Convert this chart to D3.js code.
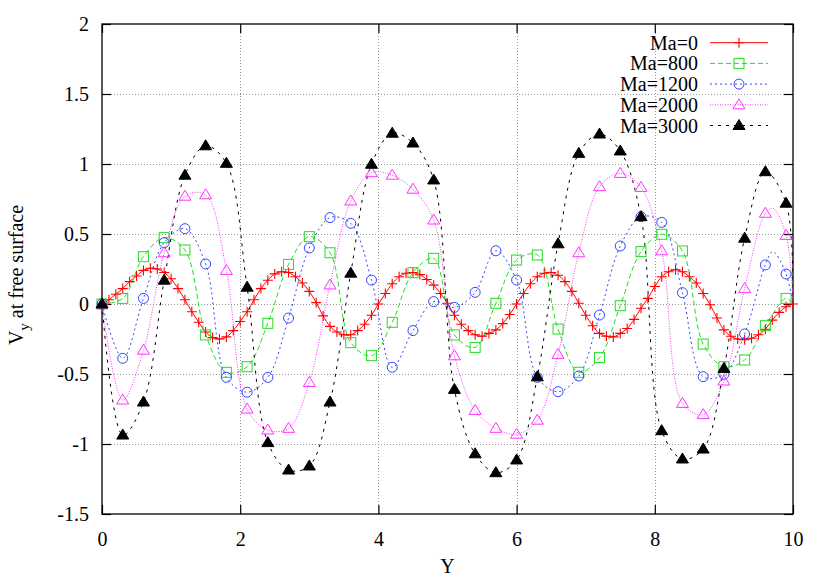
<!DOCTYPE html>
<html>
<head>
<meta charset="utf-8">
<script src="https://cdn.jsdelivr.net/npm/d3@7"></script>
<style>
  body { margin: 0; background: #fff; }
  svg { font-family: "Liberation Serif", "Times New Roman", serif; }
</style>
</head>
<body>
<div id="chart"></div>
<script>
// x positions of the Ma=0 samples (every 0.1)
const xFine = [0, 0.1, 0.2, 0.3, 0.4, 0.5, 0.6, 0.7, 0.8, 0.9,
  1.0, 1.1, 1.2, 1.3, 1.4, 1.5, 1.6, 1.7, 1.8, 1.9,
  2.0, 2.1, 2.2, 2.3, 2.4, 2.5, 2.6, 2.7, 2.8, 2.9,
  3.0, 3.1, 3.2, 3.3, 3.4, 3.5, 3.6, 3.7, 3.8, 3.9,
  4.0, 4.1, 4.2, 4.3, 4.4, 4.5, 4.6, 4.7, 4.8, 4.9,
  5.0, 5.1, 5.2, 5.3, 5.4, 5.5, 5.6, 5.7, 5.8, 5.9,
  6.0, 6.1, 6.2, 6.3, 6.4, 6.5, 6.6, 6.7, 6.8, 6.9,
  7.0, 7.1, 7.2, 7.3, 7.4, 7.5, 7.6, 7.7, 7.8, 7.9,
  8.0, 8.1, 8.2, 8.3, 8.4, 8.5, 8.6, 8.7, 8.8, 8.9,
  9.0, 9.1, 9.2, 9.3, 9.4, 9.5, 9.6, 9.7, 9.8, 9.9, 10.0];

const ma0 = [0, 0.03, 0.07, 0.11, 0.16, 0.20, 0.24, 0.255, 0.25, 0.225,
  0.18, 0.11, 0.03, -0.055, -0.13, -0.20, -0.24, -0.25, -0.235, -0.19,
  -0.125, -0.055, 0.03, 0.11, 0.17, 0.215, 0.23, 0.225, 0.195, 0.15,
  0.09, 0.01, -0.085, -0.16, -0.20, -0.22, -0.22, -0.19, -0.145, -0.08,
  0.0, 0.075, 0.145, 0.195, 0.22, 0.225, 0.21, 0.175, 0.135, 0.075,
  0.005, -0.08, -0.145, -0.19, -0.22, -0.23, -0.21, -0.185, -0.14, -0.075,
  0.0, 0.075, 0.145, 0.195, 0.22, 0.225, 0.205, 0.16, 0.09, 0.005,
  -0.08, -0.155, -0.21, -0.23, -0.235, -0.21, -0.175, -0.11, -0.03, 0.04,
  0.125, 0.195, 0.23, 0.245, 0.23, 0.195, 0.15, 0.075, -0.005, -0.10,
  -0.185, -0.23, -0.25, -0.255, -0.245, -0.22, -0.18, -0.115, -0.06, -0.02, 0];

// x positions of the other series' markers (every 0.3)
const xMarks = [0, 0.3, 0.6, 0.9, 1.2, 1.5, 1.8, 2.1, 2.4, 2.7,
  3.0, 3.3, 3.6, 3.9, 4.2, 4.5, 4.8, 5.1, 5.4, 5.7,
  6.0, 6.3, 6.6, 6.9, 7.2, 7.5, 7.8, 8.1, 8.4, 8.7,
  9.0, 9.3, 9.6, 9.9];

const ma800 = [0, 0.04, 0.338, 0.474, 0.386, -0.221, -0.488, -0.448, -0.138, 0.283,
  0.481, 0.366, -0.276, -0.369, -0.131, 0.224, 0.326, -0.221, -0.31, 0.005,
  0.314, 0.35, -0.179, -0.488, -0.383, -0.012, 0.374, 0.498, 0.379, -0.286,
  -0.448, -0.40, -0.155, 0.04];

const ma1200 = [0, -0.388, 0.04, 0.438, 0.538, 0.286, -0.524, -0.63, -0.524, -0.10,
  0.40, 0.617, 0.576, 0.171, -0.452, -0.19, 0.017, -0.024, 0.083, 0.38,
  0.171, -0.524, -0.626, -0.514, -0.079, 0.414, 0.624, 0.583, 0.081, -0.519,
  -0.502, -0.214, 0.279, 0.214];

const ma2000 = [0, -0.686, -0.33, 0.366, 0.77, 0.78, 0.24, -0.75, -0.90, -0.888,
  -0.56, 0.136, 0.736, 0.938, 0.92, 0.82, 0.60, -0.37, -0.76, -0.888,
  -0.93, -0.83, -0.36, 0.366, 0.838, 0.933, 0.833, 0.38, -0.71, -0.79,
  -0.55, 0.11, 0.648, 0.49];

const ma3000 = [0, -0.936, -0.70, 0.17, 0.92, 1.13, 1.005, 0.12, -0.99, -1.186,
  -1.157, -0.70, 0.22, 0.998, 1.22, 1.15, 0.886, -0.61, -1.07, -1.205,
  -1.114, -0.52, 0.43, 1.076, 1.214, 1.093, 0.624, -0.905, -1.107, -1.036,
  -0.46, 0.47, 0.945, 0.72];

// curve points between markers (line only, no marker)
const ma800Extra = [[10, 0]];
const ma1200Extra = [[9.71, 0.374], [10, 0]];
const ma2000Extra = [[9.71, 0.684], [10, 0]];
const ma3000Extra = [[10, 0]];

const xTicks = [0, 2, 4, 6, 8, 10];
const yTicks = [-1.5, -1, -0.5, 0, 0.5, 1, 1.5, 2];

const width = 830;
const height = 581;
const plot = { left: 102, right: 793, top: 24, bottom: 514 };

const svg = d3.select('#chart').append('svg')
    .attr('width', width)
    .attr('height', height);

const x = d3.scaleLinear().domain([0, 10]).range([plot.left, plot.right]);
const y = d3.scaleLinear().domain([-1.5, 2]).range([plot.bottom, plot.top]);

// grid
const grid = svg.append('g')
    .attr('stroke', '#999')
    .attr('stroke-width', 1)
    .attr('stroke-dasharray', '1,2');
grid.selectAll('line.gx')
    .data(xTicks.slice(1, -1))
    .enter().append('line')
    .attr('x1', d => Math.round(x(d)) + 0.5).attr('x2', d => Math.round(x(d)) + 0.5)
    .attr('y1', plot.top).attr('y2', plot.bottom);
grid.selectAll('line.gy')
    .data(yTicks.slice(1, -1))
    .enter().append('line')
    .attr('y1', d => Math.round(y(d)) + 0.5).attr('y2', d => Math.round(y(d)) + 0.5)
    .attr('x1', plot.left).attr('x2', plot.right);

// axes: ticks inside, mirrored on all sides
const tickLen = 9;
const fmt = d => String(d);

svg.append('g')
    .attr('transform', `translate(0,${plot.bottom})`)
    .call(d3.axisBottom(x).tickValues(xTicks).tickFormat(fmt).tickSizeInner(-tickLen).tickSizeOuter(0).tickPadding(18));
svg.append('g')
    .attr('transform', `translate(0,${plot.top})`)
    .call(d3.axisTop(x).tickValues(xTicks).tickFormat('').tickSizeInner(-tickLen).tickSizeOuter(0));
svg.append('g')
    .attr('transform', `translate(${plot.left},0)`)
    .call(d3.axisLeft(y).tickValues(yTicks).tickFormat(fmt).tickSizeInner(-tickLen).tickSizeOuter(0).tickPadding(13));
svg.append('g')
    .attr('transform', `translate(${plot.right},0)`)
    .call(d3.axisRight(y).tickValues(yTicks).tickFormat('').tickSizeInner(-tickLen).tickSizeOuter(0));

svg.selectAll('.domain').remove();
svg.selectAll('.tick line').attr('stroke', '#000').attr('stroke-width', 1.2);
svg.selectAll('.tick text')
    .attr('fill', '#000')
    .style('font-size', '20px')
    .style('font-family', '"Liberation Serif", serif');

// border
svg.append('rect')
    .attr('x', plot.left).attr('y', plot.top)
    .attr('width', plot.right - plot.left).attr('height', plot.bottom - plot.top)
    .attr('fill', 'none').attr('stroke', '#000').attr('stroke-width', 1.3);

// axis titles
svg.append('text')
    .attr('x', (plot.left + plot.right) / 2)
    .attr('y', 573)
    .attr('text-anchor', 'middle')
    .style('font-size', '20px')
    .text('Y');

const yLabel = svg.append('text')
    .attr('transform', 'translate(23,275) rotate(-90)')
    .attr('text-anchor', 'middle')
    .style('font-size', '20px');
yLabel.append('tspan').text('V');
yLabel.append('tspan').attr('dy', 6).style('font-size', '15px').text('y');
yLabel.append('tspan').attr('dy', -6).text(' at free surface');

// series
const series = [
  { name: 'Ma=0', xs: xFine, ys: ma0, extra: [], color: '#ff0000', dash: null, marker: 'plus' },
  { name: 'Ma=800', xs: xMarks, ys: ma800, extra: ma800Extra, color: '#22dd22', dash: '5,3', marker: 'square' },
  { name: 'Ma=1200', xs: xMarks, ys: ma1200, extra: ma1200Extra, color: '#3344ff', dash: '2,3', marker: 'circle' },
  { name: 'Ma=2000', xs: xMarks, ys: ma2000, extra: ma2000Extra, color: '#ff33ff', dash: '1,1.5', marker: 'triangle' },
  { name: 'Ma=3000', xs: xMarks, ys: ma3000, extra: ma3000Extra, color: '#000000', dash: '3,5', marker: 'filledTriangle' }
];

svg.append('clipPath').attr('id', 'clip')
    .append('rect')
    .attr('x', plot.left).attr('y', plot.top)
    .attr('width', plot.right - plot.left).attr('height', plot.bottom - plot.top);

const line = d3.line()
    .x(d => x(d[0]))
    .y(d => y(d[1]))
    .curve(d3.curveCatmullRom.alpha(0.5));

const drawMarker = (g, type, color, cx, cy) => {
    if (type === 'plus') {
        g.append('path')
            .attr('d', `M${cx - 5},${cy}H${cx + 5}M${cx},${cy - 5}V${cy + 5}`)
            .attr('stroke', color).attr('stroke-width', 1.1).attr('fill', 'none');
    } else if (type === 'square') {
        g.append('rect')
            .attr('x', cx - 5).attr('y', cy - 5).attr('width', 10).attr('height', 10)
            .attr('stroke', color).attr('stroke-width', 1).attr('fill', 'none');
    } else if (type === 'circle') {
        g.append('circle')
            .attr('cx', cx).attr('cy', cy).attr('r', 5)
            .attr('stroke', color).attr('stroke-width', 1).attr('fill', 'none');
    } else {
        const filled = type === 'filledTriangle';
        g.append('path')
            .attr('d', `M${cx},${cy - 6}L${cx + 6},${cy + 4}L${cx - 6},${cy + 4}Z`)
            .attr('stroke', color).attr('stroke-width', 1)
            .attr('fill', filled ? color : 'none');
    }
};

const plotG = svg.append('g').attr('clip-path', 'url(#clip)');

series.forEach(s => {
    const pts = s.xs.map((v, i) => [v, s.ys[i]])
        .concat(s.extra)
        .sort((a, b) => a[0] - b[0]);
    plotG.append('path')
        .datum(pts)
        .attr('fill', 'none')
        .attr('stroke', s.color)
        .attr('stroke-width', 1)
        .attr('stroke-dasharray', s.dash)
        .attr('d', line);
});

series.forEach(s => {
    const mg = svg.append('g');
    s.xs.forEach((v, i) => drawMarker(mg, s.marker, s.color, x(v), y(s.ys[i])));
});

// legend (no background, like gnuplot's default key)
const legend = svg.append('g');
series.forEach((s, i) => {
    const ly = 42.7 + i * 20.7;
    legend.append('text')
        .attr('x', 698).attr('y', ly + 7)
        .attr('text-anchor', 'end')
        .style('font-size', '20px')
        .text(s.name);
    legend.append('line')
        .attr('x1', 710).attr('x2', 768)
        .attr('y1', ly).attr('y2', ly)
        .attr('stroke', s.color).attr('stroke-width', 1)
        .attr('stroke-dasharray', s.dash);
    drawMarker(legend, s.marker, s.color, 739, ly);
});
</script>
</body>
</html>
